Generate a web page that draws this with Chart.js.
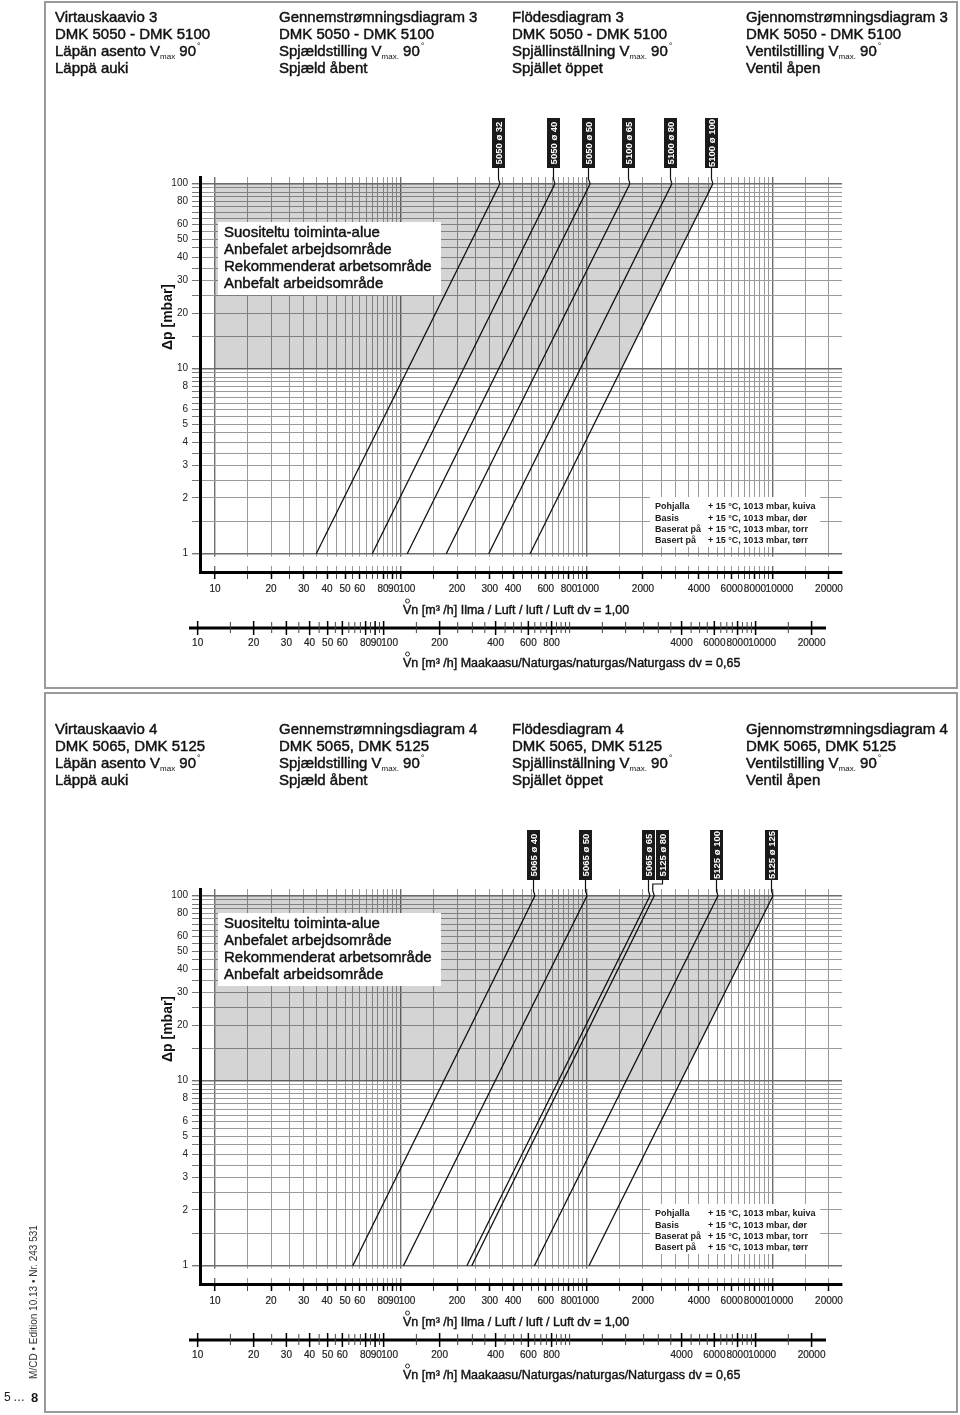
<!DOCTYPE html>
<html>
<head>
<meta charset="utf-8">
<script src="https://cdn.jsdelivr.net/npm/chart.js@4.4.0/dist/chart.umd.min.js"></script>
<style>
  html, body { margin: 0; padding: 0; background: #fff; }
  #wrap { position: relative; width: 960px; height: 1415px; }
  canvas { position: absolute; left: 0; }
</style>
</head>
<body>
<div id="wrap">
  <canvas id="c1" width="960" height="690" style="top:0"></canvas>
  <canvas id="c2" width="960" height="725" style="top:690px"></canvas>
</div>
<script>
// air flow (m³/h) at Δp = 1 mbar and at Δp = 100 mbar
const dpEnds = [1, 100];
const topNames = ['5050 ø 32', '5050 ø 40', '5050 ø 50', '5100 ø 65', '5100 ø 80', '5100 ø 100'];
const topFlowLow = [35, 70, 108, 175, 296, 494];
const topFlowHigh = [340, 672, 1040, 1700, 2860, 4750];
const bottomNames = ['5065 ø 40', '5065 ø 50', '5065 ø 65', '5125 ø 80', '5125 ø 100', '5125 ø 125'];
const bottomFlowLow = [55, 103, 226, 240, 521, 1025];
const bottomFlowHigh = [525, 1000, 2180, 2300, 5060, 10000];

// lower edge of the grey recommended zone (top edge is 100 mbar)
const zoneDp = [10, 10, 100];
const topZoneFlow = [10, 1530, 4750];
const bottomZoneFlow = [10, 3200, 10000];

const flowTicks = [10, 15, 20, 25, 30, 35, 40, 45, 50, 55, 60, 65, 70, 75, 80, 85, 90, 95, 100,
  150, 200, 250, 300, 350, 400, 450, 500, 550, 600, 650, 700, 750, 800, 850, 900, 950, 1000,
  1500, 2000, 2500, 3000, 3500, 4000, 4500, 5000, 5500, 6000, 6500, 7000, 7500, 8000, 8500, 9000, 9500, 10000,
  15000, 20000];
const airLabels = [10, 20, 30, 40, 50, 60, 80, 90, 100, 200, 300, 400, 600, 800, 1000, 2000, 4000, 6000, 8000, 10000, 20000];
const gasLabels = [10, 20, 30, 40, 50, 60, 80, 90, 100, 200, 400, 600, 800, 4000, 6000, 8000, 10000, 20000];
const dpTicks = [1, 1.5, 2, 2.5, 3, 3.5, 4, 4.5, 5, 5.5, 6, 6.5, 7, 7.5, 8, 8.5, 9, 9.5, 10,
  15, 20, 25, 30, 35, 40, 45, 50, 55, 60, 65, 70, 75, 80, 85, 90, 95, 100];
const dpLabels = [1, 2, 3, 4, 5, 6, 8, 10, 20, 30, 40, 50, 60, 80, 100];
const decades = [10, 100, 1000, 10000, 1];
const gasDensity = 0.65;
const gasFactor = 1 / Math.sqrt(gasDensity);

const headTitles = ['Virtauskaavio', 'Gennemstrømningsdiagram', 'Flödesdiagram', 'Gjennomstrømningsdiagram'];
const headSetting = ['Läpän asento V', 'Spjældstilling V', 'Spjällinställning V', 'Ventilstilling V'];
const headSub = ['max', 'max.', 'max.', 'max.'];
const headOpen = ['Läppä auki', 'Spjæld åbent', 'Spjället öppet', 'Ventil åpen'];
const noteLines = ['Suositeltu toiminta-alue', 'Anbefalet arbejdsområde', 'Rekommenderat arbetsområde', 'Anbefalt arbeidsområde'];
const baseLines = [['Pohjalla', '+ 15 °C, 1013 mbar, kuiva'], ['Basis', '+ 15 °C, 1013 mbar, dør'],
  ['Baserat på', '+ 15 °C, 1013 mbar, torr'], ['Basert på', '+ 15 °C, 1013 mbar, tørr']];

const F = '"Liberation Sans", Arial, sans-serif';
Chart.defaults.font.family = F;
Chart.defaults.color = '#1a1a1a';

const panels = {
  c1: { dy: 0, h: 690, no: '3', dmk: 'DMK 5050 - DMK 5100', names: topNames, low: topFlowLow, high: topFlowHigh,
        zone: topZoneFlow, noteTop: 222, legendTop: 497, frame: [2, 688] },
  c2: { dy: 22, h: 725, no: '4', dmk: 'DMK 5065, DMK 5125', names: bottomNames, low: bottomFlowLow, high: bottomFlowHigh,
        zone: bottomZoneFlow, noteTop: 201, legendTop: 492, frame: [3, 722], footer: true }
};

function txt(ctx, s, x, y, font, align, color, heavy) {
  ctx.font = font;
  ctx.fillStyle = color || '#1a1a1a';
  ctx.textAlign = align || 'left';
  ctx.textBaseline = 'middle';
  ctx.fillText(s, x, y);
  if (heavy) {
    // a touch heavier, like the medium weight of the original
    ctx.strokeStyle = ctx.fillStyle;
    ctx.lineWidth = heavy;
    ctx.strokeText(s, x, y);
  }
  return ctx.measureText(s).width;
}

// tick labels on a flow axis; crowded ones slide right so they don't overlap
function flowLabels(ctx, xs, values, div, y) {
  ctx.font = `10px ${F}`;
  const items = values.map(v => ({ s: String(v), w: ctx.measureText(String(v)).width, c: xs.getPixelForValue(v / div) }));
  for (let i = 1; i < items.length; i++) {
    const lim = items[i - 1].c + items[i - 1].w / 2 - 0.5;
    if (items[i].c - items[i].w / 2 < lim) items[i].c = lim + items[i].w / 2;
  }
  items.forEach(it => txt(ctx, it.s, it.c, y, `10px ${F}`, 'center', '#222', 0.2));
}

const decor = {
  id: 'decor',
  beforeDatasetsDraw(chart) {
    // gap between the grid and the flow axis
    const ctx = chart.ctx, a = chart.chartArea;
    const y1 = chart.scales.y.getPixelForValue(1);
    ctx.save();
    ctx.fillStyle = '#fff';
    ctx.fillRect(a.left + 2, y1 + 3, a.width, a.bottom - 6 - (y1 + 3));
    ctx.restore();
  },
  afterDatasetsDraw(chart) {
    const p = panels[chart.canvas.id], ctx = chart.ctx, dy = p.dy;
    ctx.save();
    // recommended zone note
    ctx.fillStyle = '#fff';
    ctx.fillRect(218, p.noteTop + dy, 223, 73);
    noteLines.forEach((s, i) => txt(ctx, s, 224, p.noteTop + dy + 11 + i * 17, `15px ${F}`, 'left', '#111', 0.45));
    // reference conditions
    ctx.fillStyle = '#fff';
    ctx.fillRect(650, p.legendTop + dy, 170, 50);
    baseLines.forEach((r, i) => {
      const y = p.legendTop + dy + 10 + i * 11.3;
      txt(ctx, r[0], 655, y, `bold 9px ${F}`);
      txt(ctx, r[1], 708, y, `bold 9px ${F}`);
    });
    // curve labels
    let prev = -1e9;
    p.names.forEach((name, i) => {
      const pt = chart.getDatasetMeta(i + 1).data[1];
      let cx = Math.round(pt.x) - 2;
      const jog = cx < prev + 14;
      if (jog) cx = prev + 14;
      prev = cx;
      ctx.strokeStyle = '#111';
      ctx.lineWidth = 1.2;
      ctx.beginPath();
      ctx.moveTo(cx + 0.5, 168 + dy);
      if (jog) {
        ctx.lineTo(cx + 0.5, 172 + dy);
        ctx.lineTo(pt.x - 1.5, 172 + dy);
        ctx.lineTo(pt.x - 1.5, 179 + dy);
      } else {
        ctx.lineTo(cx + 0.5, 179 + dy);
      }
      ctx.lineTo(pt.x, pt.y);
      ctx.stroke();
      ctx.fillStyle = '#1a1a1a';
      ctx.fillRect(cx - 6, 118 + dy, 13, 50);
      ctx.save();
      ctx.translate(cx + 0.5, 143 + dy);
      ctx.rotate(-Math.PI / 2);
      txt(ctx, name, 0, 0.5, `bold 9.5px ${F}`, 'center', '#fff');
      ctx.restore();
    });
    ctx.restore();
  },
  afterDraw(chart) {
    const p = panels[chart.canvas.id], ctx = chart.ctx, dy = p.dy, xs = chart.scales.x;
    ctx.save();
    // frame
    ctx.strokeStyle = '#9a9a9a';
    ctx.lineWidth = 2;
    ctx.strokeRect(45, p.frame[0], 912, p.frame[1] - p.frame[0]);
    // header
    [55, 279, 512, 746].forEach((x, i) => {
      const f = `15px ${F}`;
      txt(ctx, headTitles[i] + ' ' + p.no, x, 18 + dy, f, 'left', '#111', 0.45);
      txt(ctx, p.dmk, x, 35 + dy, f, 'left', '#111', 0.45);
      const w1 = txt(ctx, headSetting[i], x, 52 + dy, f, 'left', '#111', 0.45);
      const w2 = txt(ctx, headSub[i], x + w1, 57 + dy, `8px ${F}`, 'left', '#111');
      const w3 = txt(ctx, ' 90', x + w1 + w2, 52 + dy, f, 'left', '#111', 0.45);
      txt(ctx, '°', x + w1 + w2 + w3 + 1, 47 + dy, `9px ${F}`, 'left', '#111');
      txt(ctx, headOpen[i], x, 69 + dy, f, 'left', '#111', 0.45);
    });
    // y title
    ctx.save();
    ctx.translate(168, 317 + dy);
    ctx.rotate(-Math.PI / 2);
    txt(ctx, 'Δp [mbar]', 0, 0, `bold 14px ${F}`, 'center', '#111');
    ctx.restore();
    // air axis labels
    flowLabels(ctx, xs, airLabels, 1, 589 + dy);
    // gas axis, same pixels as the air axis at flow / factor
    const yg = 628 + dy;
    ctx.strokeStyle = '#000';
    ctx.lineWidth = 3;
    ctx.beginPath();
    ctx.moveTo(xs.left - 11, yg);
    ctx.lineTo(xs.right - 16, yg);
    ctx.stroke();
    flowTicks.forEach(v => {
      const x = xs.getPixelForValue(v / gasFactor);
      const lab = gasLabels.includes(v);
      ctx.lineWidth = lab ? 1.5 : 1;
      ctx.strokeStyle = lab ? '#000' : '#444';
      ctx.beginPath();
      ctx.moveTo(x, yg - (lab ? 7 : 6));
      ctx.lineTo(x, yg + (lab ? 7 : 5));
      ctx.stroke();
    });
    flowLabels(ctx, xs, gasLabels, gasFactor, 643 + dy);
    // axis titles
    [[611, 'Vn [m³ /h] Ilma / Luft / luft / Luft dv = 1,00'],
     [664, 'Vn [m³ /h] Maakaasu/Naturgas/naturgas/Naturgass dv = 0,65']].forEach(([y, s]) => {
      txt(ctx, s, 403, y + dy, `12.5px ${F}`, 'left', '#111', 0.4);
      ctx.lineWidth = 0.9;
      ctx.strokeStyle = '#1a1a1a';
      ctx.beginPath();
      ctx.arc(407.5, y + dy - 10, 2, 0, Math.PI * 2);
      ctx.stroke();
    });
    if (p.footer) {
      ctx.save();
      ctx.translate(34, 612);
      ctx.rotate(-Math.PI / 2);
      txt(ctx, 'M/CD • Edition 10.13 • Nr. 243 531', 0, 0, `10px ${F}`, 'center', '#333');
      ctx.restore();
      txt(ctx, '5', 4, 708, `12px ${F}`);
      txt(ctx, '…', 13, 708, `12px ${F}`);
      txt(ctx, '8', 31, 708, `bold 13px ${F}`);
    }
    ctx.restore();
  }
};

function makeChart(id) {
  const p = panels[id];
  const datasets = [{
    data: p.zone.map((x, i) => ({ x, y: zoneDp[i] })),
    fill: { value: 100 },
    backgroundColor: 'rgba(0,0,0,0.17)',
    borderWidth: 0,
    pointRadius: 0
  }];
  p.names.forEach((name, i) => datasets.push({
    label: name,
    data: [{ x: p.low[i], y: dpEnds[0] }, { x: p.high[i], y: dpEnds[1] }],
    borderColor: '#111',
    borderWidth: 1.3,
    pointRadius: 0,
    fill: false
  }));

  return new Chart(document.getElementById(id), {
    type: 'line',
    data: { datasets },
    options: {
      responsive: false,
      animation: false,
      layout: { padding: { left: 160, right: 118, top: 177 + p.dy, bottom: p.h - 602 - p.dy } },
      plugins: { legend: { display: false }, tooltip: { enabled: false } },
      scales: {
        x: {
          type: 'logarithmic', min: 8.3, max: 23500,
          afterBuildTicks: s => { s.ticks = flowTicks.map(v => ({ value: v })); },
          afterFit: s => { s.height = 30; },
          ticks: { display: false, autoSkip: false, maxRotation: 0, minRotation: 0 },
          grid: {
            color: c => decades.includes(c.tick && c.tick.value) ? '#6e6e6e' : '#9a9a9a',
            lineWidth: c => decades.includes(c.tick && c.tick.value) ? 1.4 : 1,
            tickLength: 7,
            tickColor: c => airLabels.includes(c.tick && c.tick.value) ? '#000' : '#444',
            tickWidth: c => airLabels.includes(c.tick && c.tick.value) ? 1.5 : 1
          },
          border: { color: '#000', width: 3 }
        },
        y: {
          type: 'logarithmic', min: 0.796, max: 108.7,
          afterBuildTicks: s => { s.ticks = dpTicks.map(v => ({ value: v })); },
          afterFit: s => { s.width = 40; },
          ticks: {
            autoSkip: false, padding: 4, color: '#222',
            font: { size: 10 },
            callback: v => dpLabels.includes(v) ? String(v) : ''
          },
          grid: {
            color: c => decades.includes(c.tick && c.tick.value) ? '#6e6e6e' : '#9a9a9a',
            lineWidth: c => decades.includes(c.tick && c.tick.value) ? 1.4 : 1,
            tickLength: 8,
            tickColor: '#777'
          },
          border: { color: '#000', width: 3 }
        }
      }
    },
    plugins: [decor]
  });
}

document.addEventListener('DOMContentLoaded', () => {
  makeChart('c1');
  makeChart('c2');
});
</script>
</body>
</html>
